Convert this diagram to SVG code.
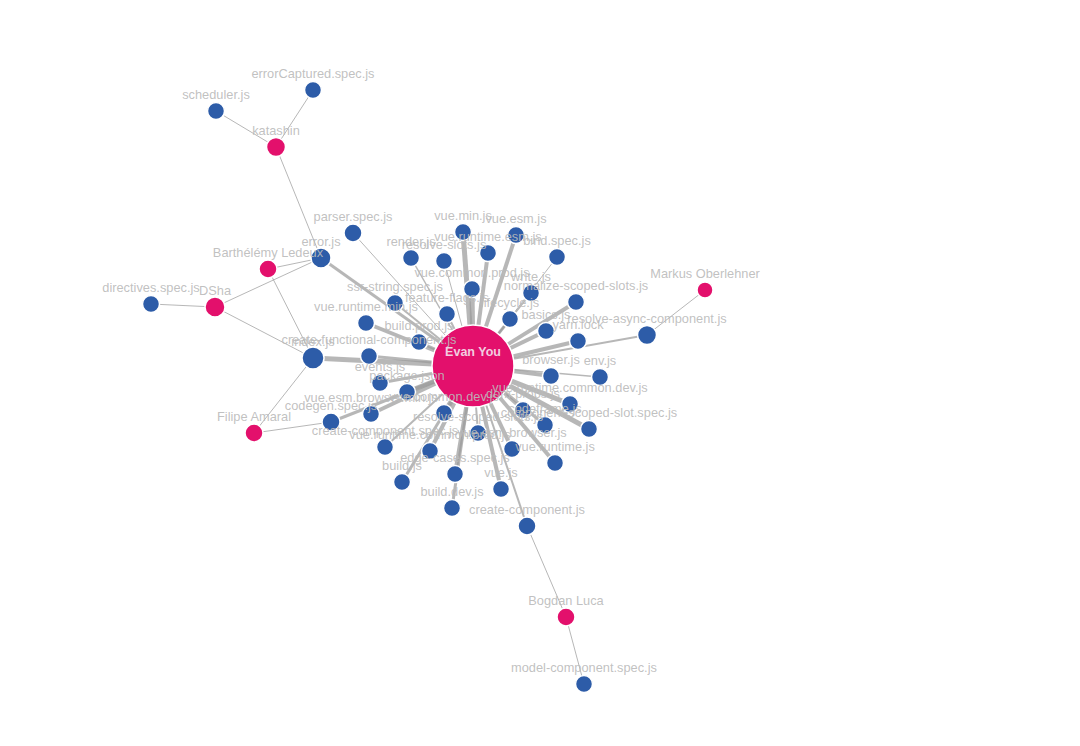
<svg xmlns="http://www.w3.org/2000/svg" width="1080" height="746" viewBox="0 0 1080 746">
<style>
.e{stroke:#999;stroke-opacity:0.7;fill:none;stroke-linecap:butt}
.f{fill:#2d5ca8;stroke:#fff;stroke-width:1.5}
.c{fill:#e3106c;stroke:#fff;stroke-width:1.5}
text{font-family:"Liberation Sans",Arial,sans-serif;font-size:12.8px;fill:#bbb;text-anchor:middle;fill-opacity:0.92}
.ev{fill:#f2cde0;font-weight:bold;fill-opacity:1;font-size:12.5px}
</style>
<rect width="1080" height="746" fill="#fff"/>
<g id="connectors">
<g stroke-width="1" class="e">
<line x1="276" y1="147" x2="216" y2="111"/>
<line x1="276" y1="147" x2="313" y2="90"/>
<line x1="276" y1="147" x2="321" y2="258"/>
<line x1="268" y1="269" x2="321" y2="258"/>
<line x1="268" y1="269" x2="313" y2="358"/>
<line x1="215" y1="307" x2="151" y2="304"/>
<line x1="215" y1="307" x2="321" y2="258"/>
<line x1="215" y1="307" x2="313" y2="358"/>
<line x1="254" y1="433" x2="331" y2="422"/>
<line x1="254" y1="433" x2="313" y2="358"/>
<line x1="705" y1="290" x2="647" y2="335"/>
<line x1="566" y1="617" x2="527" y2="526"/>
<line x1="566" y1="617" x2="584" y2="684"/>
<line x1="473" y1="366" x2="353" y2="233"/>
<line x1="473" y1="366" x2="444" y2="261"/>
<line x1="473" y1="366" x2="557" y2="257"/>
</g>
<line class="e" x1="473" y1="366" x2="321" y2="258" stroke-width="3"/>
<line class="e" x1="473" y1="366" x2="313" y2="358" stroke-width="5"/>
<line class="e" x1="473" y1="366" x2="463" y2="232" stroke-width="5"/>
<line class="e" x1="473" y1="366" x2="516" y2="235" stroke-width="4"/>
<line class="e" x1="473" y1="366" x2="411" y2="258" stroke-width="1.5"/>
<line class="e" x1="473" y1="366" x2="488" y2="253" stroke-width="4"/>
<line class="e" x1="473" y1="366" x2="472" y2="289" stroke-width="5"/>
<line class="e" x1="473" y1="366" x2="531" y2="293" stroke-width="1.5"/>
<line class="e" x1="473" y1="366" x2="576" y2="302" stroke-width="4"/>
<line class="e" x1="473" y1="366" x2="395" y2="303" stroke-width="2"/>
<line class="e" x1="473" y1="366" x2="447" y2="314" stroke-width="2"/>
<line class="e" x1="473" y1="366" x2="510" y2="319" stroke-width="3"/>
<line class="e" x1="473" y1="366" x2="546" y2="331" stroke-width="4"/>
<line class="e" x1="473" y1="366" x2="578" y2="341" stroke-width="4"/>
<line class="e" x1="473" y1="366" x2="647" y2="335" stroke-width="2"/>
<line class="e" x1="473" y1="366" x2="366" y2="323" stroke-width="4"/>
<line class="e" x1="473" y1="366" x2="419" y2="342" stroke-width="3"/>
<line class="e" x1="473" y1="366" x2="369" y2="356" stroke-width="3"/>
<line class="e" x1="473" y1="366" x2="380" y2="383" stroke-width="3"/>
<line class="e" x1="473" y1="366" x2="407" y2="392" stroke-width="5"/>
<line class="e" x1="473" y1="366" x2="551" y2="376" stroke-width="4"/>
<line class="e" x1="473" y1="366" x2="600" y2="377" stroke-width="1.5"/>
<line class="e" x1="473" y1="366" x2="570" y2="404" stroke-width="5"/>
<line class="e" x1="473" y1="366" x2="523" y2="410" stroke-width="3"/>
<line class="e" x1="473" y1="366" x2="545" y2="425" stroke-width="3"/>
<line class="e" x1="473" y1="366" x2="589" y2="429" stroke-width="5"/>
<line class="e" x1="473" y1="366" x2="371" y2="414" stroke-width="4"/>
<line class="e" x1="473" y1="366" x2="444" y2="413" stroke-width="5"/>
<line class="e" x1="473" y1="366" x2="331" y2="422" stroke-width="3"/>
<line class="e" x1="473" y1="366" x2="385" y2="447" stroke-width="2"/>
<line class="e" x1="473" y1="366" x2="430" y2="451" stroke-width="4"/>
<line class="e" x1="473" y1="366" x2="478" y2="433" stroke-width="2"/>
<line class="e" x1="473" y1="366" x2="512" y2="449" stroke-width="4"/>
<line class="e" x1="473" y1="366" x2="555" y2="463" stroke-width="4"/>
<line class="e" x1="473" y1="366" x2="455" y2="474" stroke-width="4"/>
<line class="e" x1="473" y1="366" x2="402" y2="482" stroke-width="3"/>
<line class="e" x1="473" y1="366" x2="501" y2="489" stroke-width="4"/>
<line class="e" x1="473" y1="366" x2="452" y2="508" stroke-width="3"/>
<line class="e" x1="473" y1="366" x2="527" y2="526" stroke-width="2"/>
</g>
<g id="nodes">
<g id="c-evan"><circle class="c" cx="473" cy="366" r="41"/></g>
<g id="c-katashin"><circle class="c" cx="276" cy="147" r="9.5"/></g>
<g id="c-barthelemy"><circle class="c" cx="268" cy="269" r="9"/></g>
<g id="c-dsha"><circle class="c" cx="215" cy="307" r="10"/></g>
<g id="c-filipe"><circle class="c" cx="254" cy="433" r="9"/></g>
<g id="c-markus"><circle class="c" cx="705" cy="290" r="8"/></g>
<g id="c-bogdan"><circle class="c" cx="566" cy="617" r="9"/></g>
<g id="f-errorcaptured"><circle class="f" cx="313" cy="90" r="8.5"/></g>
<g id="f-scheduler"><circle class="f" cx="216" cy="111" r="8.5"/></g>
<g id="f-parser"><circle class="f" cx="353" cy="233" r="9"/></g>
<g id="f-error"><circle class="f" cx="321" cy="258" r="10"/></g>
<g id="f-directives"><circle class="f" cx="151" cy="304" r="8.5"/></g>
<g id="f-index"><circle class="f" cx="313" cy="358" r="11"/></g>
<g id="f-codegen"><circle class="f" cx="331" cy="422" r="9"/></g>
<g id="f-model"><circle class="f" cx="584" cy="684" r="8.5"/></g>
<g id="f-createcomp"><circle class="f" cx="527" cy="526" r="9"/></g>
<g id="f-resolveasync"><circle class="f" cx="647" cy="335" r="9.5"/></g>
<g id="f-vuemin"><circle class="f" cx="463" cy="232" r="8.5"/></g>
<g id="f-vueesm"><circle class="f" cx="516" cy="235" r="8.5"/></g>
<g id="f-render"><circle class="f" cx="411" cy="258" r="8.5"/></g>
<g id="f-resolveslots"><circle class="f" cx="444" cy="261" r="8.5"/></g>
<g id="f-vueruntimeesm"><circle class="f" cx="488" cy="253" r="8.5"/></g>
<g id="f-bind"><circle class="f" cx="557" cy="257" r="8.5"/></g>
<g id="f-commonprod"><circle class="f" cx="472" cy="289" r="8.5"/></g>
<g id="f-write"><circle class="f" cx="531" cy="293" r="8.5"/></g>
<g id="f-normalize"><circle class="f" cx="576" cy="302" r="8.5"/></g>
<g id="f-ssr"><circle class="f" cx="395" cy="303" r="8.5"/></g>
<g id="f-feature"><circle class="f" cx="447" cy="314" r="8.5"/></g>
<g id="f-lifecycle"><circle class="f" cx="510" cy="319" r="8.5"/></g>
<g id="f-basics"><circle class="f" cx="546" cy="331" r="8.5"/></g>
<g id="f-yarn"><circle class="f" cx="578" cy="341" r="8.5"/></g>
<g id="f-runtimemin"><circle class="f" cx="366" cy="323" r="8.5"/></g>
<g id="f-buildprod"><circle class="f" cx="419" cy="342" r="8.5"/></g>
<g id="f-createfunc"><circle class="f" cx="369" cy="356" r="8.5"/></g>
<g id="f-events"><circle class="f" cx="380" cy="383" r="8.5"/></g>
<g id="f-package"><circle class="f" cx="407" cy="392" r="8.5"/></g>
<g id="f-browser"><circle class="f" cx="551" cy="376" r="8.5"/></g>
<g id="f-env"><circle class="f" cx="600" cy="377" r="8.5"/></g>
<g id="f-runtimecommondev"><circle class="f" cx="570" cy="404" r="8.5"/></g>
<g id="f-domprops"><circle class="f" cx="523" cy="410" r="8.5"/></g>
<g id="f-codeframe"><circle class="f" cx="545" cy="425" r="8.5"/></g>
<g id="f-compscoped"><circle class="f" cx="589" cy="429" r="8.5"/></g>
<g id="f-esmbrowsermin"><circle class="f" cx="371" cy="414" r="8.5"/></g>
<g id="f-commondev"><circle class="f" cx="444" cy="413" r="8.5"/></g>
<g id="f-createcompspec"><circle class="f" cx="385" cy="447" r="8.5"/></g>
<g id="f-runtimecommonprod"><circle class="f" cx="430" cy="451" r="8.5"/></g>
<g id="f-resolvescoped"><circle class="f" cx="478" cy="433" r="8.5"/></g>
<g id="f-esmbrowser"><circle class="f" cx="512" cy="449" r="8.5"/></g>
<g id="f-runtime"><circle class="f" cx="555" cy="463" r="8.5"/></g>
<g id="f-edge"><circle class="f" cx="455" cy="474" r="8.5"/></g>
<g id="f-build"><circle class="f" cx="402" cy="482" r="8.5"/></g>
<g id="f-vue"><circle class="f" cx="501" cy="489" r="8.5"/></g>
<g id="f-builddev"><circle class="f" cx="452" cy="508" r="8.5"/></g>
</g>
<g id="labels">
<text x="313" y="78">errorCaptured.spec.js</text>
<text x="216" y="99">scheduler.js</text>
<text x="276" y="135">katashin</text>
<text x="353" y="221">parser.spec.js</text>
<text x="321" y="246">error.js</text>
<text x="268" y="257">Barthélémy Ledeux</text>
<text x="151" y="292">directives.spec.js</text>
<text x="215" y="295">DSha</text>
<text x="313" y="346">index.js</text>
<text x="331" y="410">codegen.spec.js</text>
<text x="254" y="421">Filipe Amaral</text>
<text x="705" y="278">Markus Oberlehner</text>
<text x="647" y="323">resolve-async-component.js</text>
<text x="566" y="605">Bogdan Luca</text>
<text x="584" y="672">model-component.spec.js</text>
<text x="527" y="514">create-component.js</text>
<text x="463" y="220">vue.min.js</text>
<text x="516" y="223">vue.esm.js</text>
<text x="411" y="246">render.js</text>
<text x="444" y="249">resolve-slots.js</text>
<text x="488" y="241">vue.runtime.esm.js</text>
<text x="557" y="245">bind.spec.js</text>
<text x="472" y="277">vue.common.prod.js</text>
<text x="531" y="281">write.js</text>
<text x="576" y="290">normalize-scoped-slots.js</text>
<text x="395" y="291">ssr-string.spec.js</text>
<text x="447" y="302">feature-flags.js</text>
<text x="510" y="307">lifecycle.js</text>
<text x="546" y="319">basics.js</text>
<text x="578" y="329">yarn.lock</text>
<text x="366" y="311">vue.runtime.min.js</text>
<text x="419" y="330">build.prod.js</text>
<text x="369" y="344">create-functional-component.js</text>
<text x="380" y="371">events.js</text>
<text x="407" y="380">package.json</text>
<text x="551" y="364">browser.js</text>
<text x="600" y="365">env.js</text>
<text x="570" y="392">vue.runtime.common.dev.js</text>
<text x="523" y="398">dom-props.js</text>
<text x="545" y="413">codeframe.js</text>
<text x="589" y="417">component-scoped-slot.spec.js</text>
<text x="371" y="402">vue.esm.browser.min.js</text>
<text x="444" y="401">vue.common.dev.js</text>
<text x="385" y="435">create-component.spec.js</text>
<text x="430" y="439">vue.runtime.common.prod.js</text>
<text x="478" y="421">resolve-scoped-slots.js</text>
<text x="512" y="437">vue.esm.browser.js</text>
<text x="555" y="451">vue.runtime.js</text>
<text x="455" y="462">edge-cases.spec.js</text>
<text x="402" y="470">build.js</text>
<text x="501" y="477">vue.js</text>
<text x="452" y="496">build.dev.js</text>
<text class="ev" x="473" y="356">Evan You</text>
</g>
</svg>
